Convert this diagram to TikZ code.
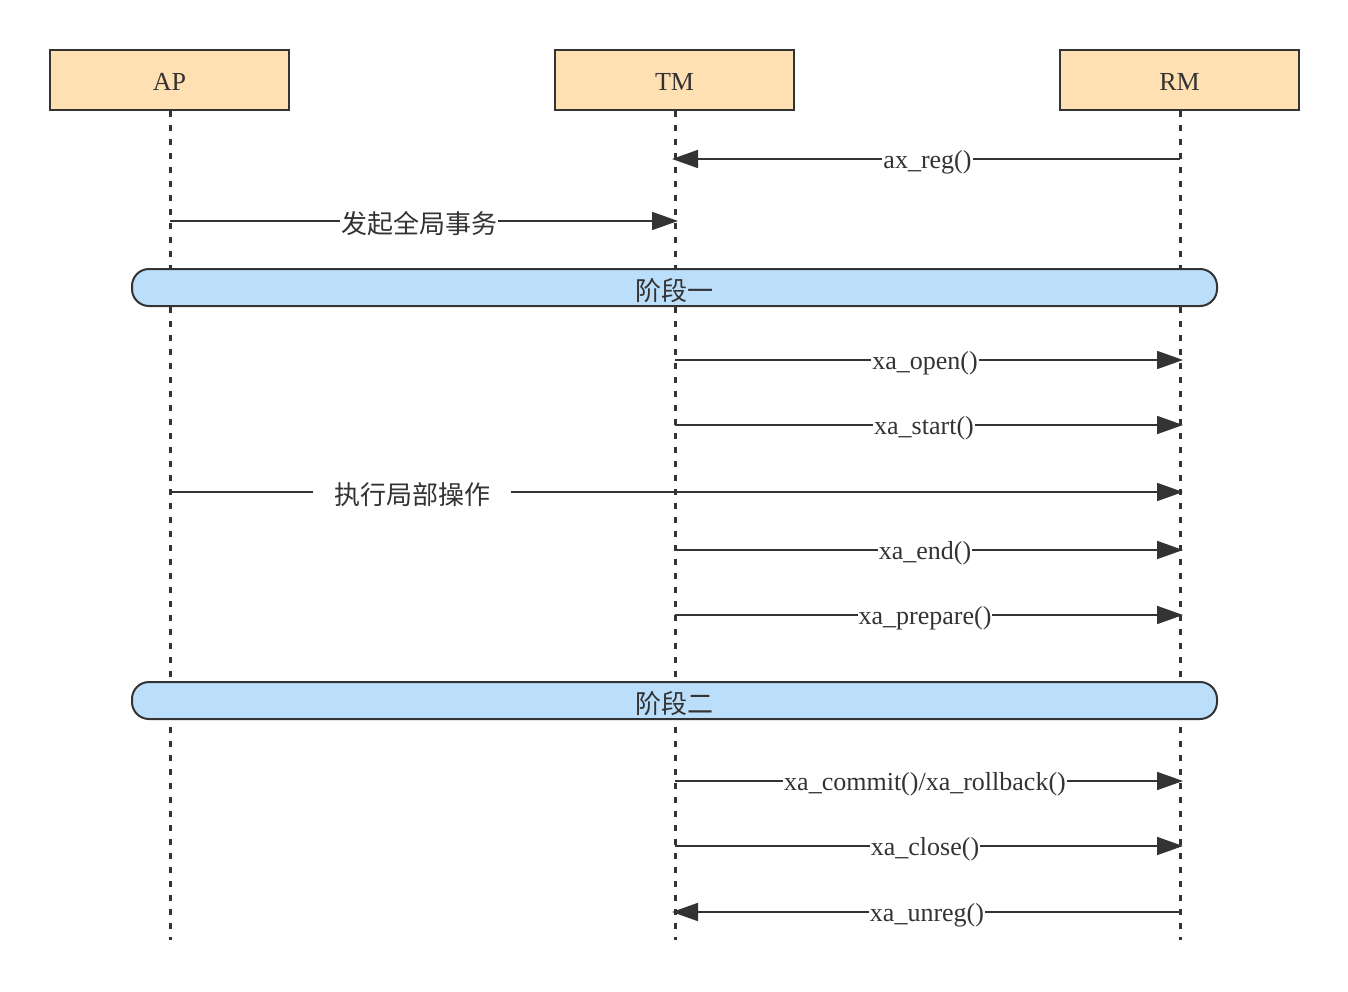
\documentclass[tikz,border=0pt]{standalone}
\usepackage{fontspec}
\setmainfont{Liberation Serif}
\newfontfamily\cjk{Noto Sans CJK SC}
\usetikzlibrary{arrows.meta}
\pgfdeclarelayer{bg}
\pgfsetlayers{bg,main}
\definecolor{ink}{HTML}{333333}
\definecolor{headfill}{HTML}{FFE0B2}
\definecolor{phasefill}{HTML}{BBDEFB}
\tikzset{
  head/.style={draw=ink, line width=2pt, fill=headfill, minimum width=239pt,
    minimum height=60pt, inner sep=0pt, text=ink, text height=21pt, text depth=0pt,
    font=\fontsize{26}{28}\selectfont},
  phase/.style={draw=ink, line width=2pt, fill=phasefill, rounded corners=17pt,
    minimum width=1085pt, minimum height=37pt, inner sep=0pt, text=ink,
    text height=25pt, text depth=0pt,
    font=\cjk\fontsize{26}{28}\selectfont},
  lifeline/.style={ink, line width=3pt, dash pattern=on 6pt off 8pt},
  msg/.style={ink, line width=1.8pt,
    -{Triangle[length=26pt, width=18pt]}, shorten >=-3pt},
  lab/.style={fill=white, inner xsep=1pt, inner ysep=0pt, text=ink,
    font=\fontsize{26}{28}\selectfont},
  cjklab/.style={lab, font=\cjk\fontsize{26}{28}\selectfont},
}
\begin{document}
\begin{tikzpicture}[x=1pt, y=-1pt]
\useasboundingbox (0,0) rectangle (1348,992);

% participants
\node[head] (ap) at (169.5,80) {AP};
\node[head] (tm) at (674.5,80) {TM};
\node[head] (rm) at (1179.5,80) {RM};

% lifeline ends
\coordinate (apend) at (170,940);
\coordinate (tmend) at (675,940);
\coordinate (rmend) at (1180,940);

% phase bands
\node[phase] (p1) at (674.5,287.5) {阶段一};
\node[phase] (p2) at (674.5,700.5) {阶段二};

% message labels
\node[lab] (m1) at (927.5,162) {ax\_reg()};
\node[cjklab] (m2) at (419,224) {发起全局事务};
\node[lab] (m3) at (925,363) {xa\_open()};
\node[lab] (m4) at (924,428) {xa\_start()};
\node[cjklab, inner xsep=21pt] (m5) at (412,495) {执行局部操作};
\node[lab] (m6) at (925,553) {xa\_end()};
\node[lab] (m7) at (925,618) {xa\_prepare()};
\node[lab] (m8) at (925,784) {xa\_commit()/xa\_rollback()};
\node[lab] (m9) at (925,849) {xa\_close()};
\node[lab] (m10) at (927,915) {xa\_unreg()};

\begin{pgfonlayer}{bg}
  \draw[lifeline] (ap.south -| apend) -- (apend);
  \draw[lifeline] (tm.south -| tmend) -- (tmend);
  \draw[lifeline] (rm.south -| rmend) -- (rmend);

  \coordinate (y1) at (0,159);
  \coordinate (y2) at (0,221);
  \coordinate (y3) at (0,360);
  \coordinate (y4) at (0,425);
  \coordinate (y5) at (0,492);
  \coordinate (y6) at (0,550);
  \coordinate (y7) at (0,615);
  \coordinate (y8) at (0,781);
  \coordinate (y9) at (0,846);
  \coordinate (y10) at (0,912);

  \draw[msg] (rmend |- y1) -- (tmend |- y1);
  \draw[msg] (apend |- y2) -- (tmend |- y2);
  \draw[msg] (tmend |- y3) -- (rmend |- y3);
  \draw[msg] (tmend |- y4) -- (rmend |- y4);
  \draw[msg] (apend |- y5) -- (rmend |- y5);
  \draw[msg] (tmend |- y6) -- (rmend |- y6);
  \draw[msg] (tmend |- y7) -- (rmend |- y7);
  \draw[msg] (tmend |- y8) -- (rmend |- y8);
  \draw[msg] (tmend |- y9) -- (rmend |- y9);
  \draw[msg] (rmend |- y10) -- (tmend |- y10);
\end{pgfonlayer}
\end{tikzpicture}
\end{document}
